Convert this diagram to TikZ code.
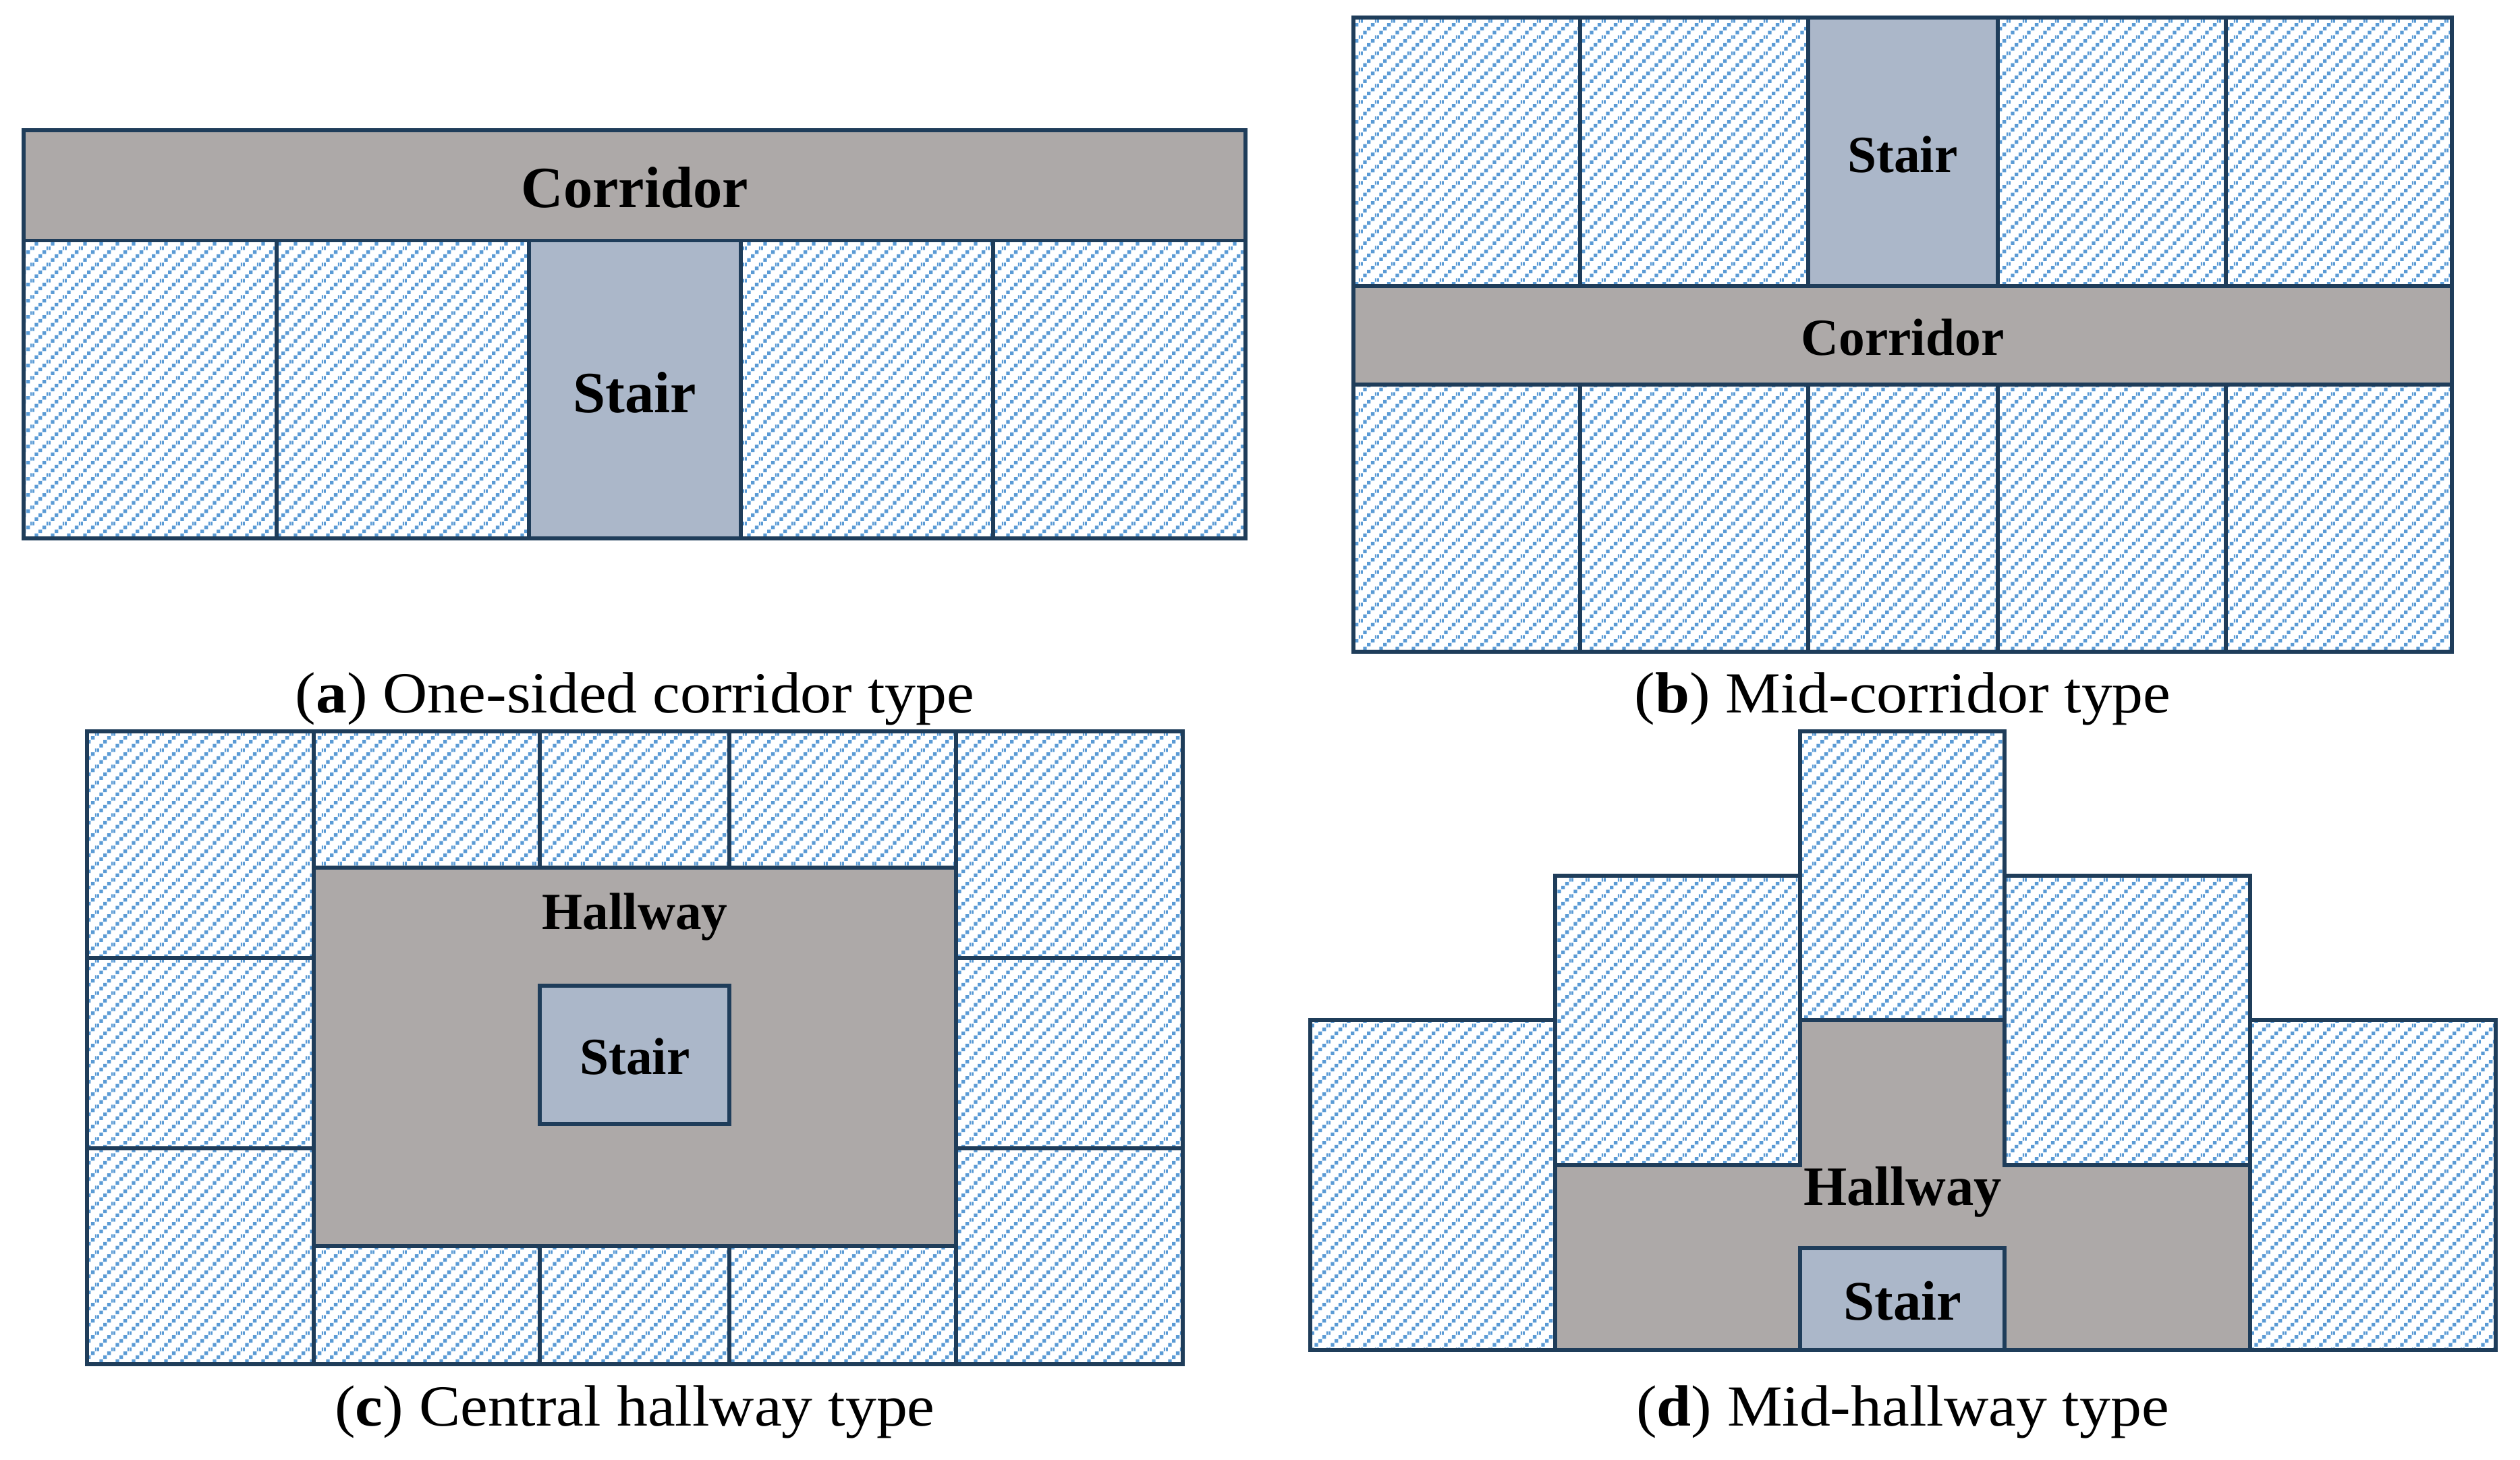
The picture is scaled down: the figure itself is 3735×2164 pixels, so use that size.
\documentclass[tikz,border=0pt]{standalone}
\usepackage{fontspec}
\setmainfont{Liberation Serif}
\newfontfamily\capfont[FakeStretch=1.065,BoldFeatures={FakeStretch=1.065}]{Liberation Serif}
\usetikzlibrary{patterns}
\definecolor{edgeblue}{HTML}{1F3D5A}
\definecolor{hatchblue}{HTML}{5B9BD5}
\definecolor{hallgrey}{HTML}{ADA9A8}
\definecolor{stairblue}{HTML}{ABB7C9}
\pgfdeclarepatternformonly{roomdots}{\pgfqpoint{0cm}{0cm}}{\pgfqpoint{0.24cm}{0.24cm}}{\pgfqpoint{0.24cm}{0.24cm}}{%
  \pgfpathrectangle{\pgfqpoint{0.0355cm}{0cm}}{\pgfqpoint{0.055cm}{0.055cm}}%
  \pgfpathrectangle{\pgfqpoint{0.0955cm}{0.06cm}}{\pgfqpoint{0.055cm}{0.055cm}}%
  \pgfpathrectangle{\pgfqpoint{0.1555cm}{0.12cm}}{\pgfqpoint{0.055cm}{0.055cm}}%
  \pgfpathrectangle{\pgfqpoint{0.2155cm}{0.18cm}}{\pgfqpoint{0.0245cm}{0.055cm}}%
  \pgfpathrectangle{\pgfqpoint{0cm}{0.18cm}}{\pgfqpoint{0.0305cm}{0.055cm}}%
  \pgfusepath{fill}}
\tikzset{
  x=0.01cm,y=-0.01cm,
  room/.style={draw=edgeblue,line width=1.7pt,pattern=roomdots,pattern color=hatchblue},
  hall/.style={draw=edgeblue,line width=1.7pt,fill=hallgrey},
  stairbox/.style={draw=edgeblue,line width=1.7pt,fill=stairblue},
  biglabel/.style={font=\bfseries\fontsize{24.6}{30}\selectfont,inner sep=0pt},
  midlabel/.style={font=\bfseries\fontsize{22}{26}\selectfont,inner sep=0pt},
  dlabel/.style={font=\bfseries\fontsize{23.5}{28}\selectfont,inner sep=0pt},
  caption/.style={font=\capfont\fontsize{24.5}{30}\selectfont,inner sep=0pt,anchor=base}
}
\begin{document}
\begin{tikzpicture}
\useasboundingbox (0,0) rectangle (3735,2164);
% panel a
\draw[hall] (35,193) rectangle (1846,356.5);
\draw[room] (35,356.5) rectangle (410,798);
\draw[room] (410,356.5) rectangle (784,798);
\draw[stairbox] (784,356.5) rectangle (1098,798);
\draw[room] (1098,356.5) rectangle (1472,798);
\draw[room] (1472,356.5) rectangle (1846,798);
\node[biglabel] (acorr) at (941,278) {Corridor};
\node[biglabel] (astair) at (941,582) {Stair};
\node[caption] (acap) at (941,1056) {(\textbf{a}) One-sided corridor type};
% panel b
\foreach \xa/\xb in {2006/2342,2342/2680,2961/3299,3299/3634}{\draw[room] (\xa,26) rectangle (\xb,424);}
\draw[stairbox] (2680,26) rectangle (2961,424);
\draw[hall] (2006,424) rectangle (3634,570);
\foreach \xa/\xb in {2006/2342,2342/2680,2680/2961,2961/3299,3299/3634}{\draw[room] (\xa,570) rectangle (\xb,966);}
\node[midlabel] (bstair) at (2820,229) {Stair};
\node[midlabel] (bcorr) at (2820,500) {Corridor};
\node[caption] (bcap) at (2820,1056) {(\textbf{b}) Mid-corridor type};
% panel c
\foreach \ya/\yb in {1084/1420,1420/1702,1702/2022}{
  \draw[room] (129,\ya) rectangle (465,\yb);
  \draw[room] (1417,\ya) rectangle (1753,\yb);}
\foreach \xa/\xb in {465/800,800/1081,1081/1417}{
  \draw[room] (\xa,1084) rectangle (\xb,1286);
  \draw[room] (\xa,1847) rectangle (\xb,2022);}
\draw[hall] (465,1286) rectangle (1417,1847);
\draw[stairbox] (800,1461) rectangle (1081,1666);
\node[midlabel] (chall) at (941,1359) {Hallway};
\node[midlabel] (cstair) at (941,1566) {Stair};
\node[caption] (ccap) at (941,2113) {(\textbf{c}) Central hallway type};
% panel d
\draw[room] (1942,1512) rectangle (2305,2001);
\draw[room] (3335,1512) rectangle (3699,2001);
\draw[room] (2305,1298) rectangle (2668,1727);
\draw[room] (2971,1298) rectangle (3335,1727);
\draw[room] (2668,1084) rectangle (2971,1512);
\draw[hall] (2668,1512) -- (2971,1512) -- (2971,1727) -- (3335,1727) -- (3335,2001) -- (2305,2001) -- (2305,1727) -- (2668,1727) -- cycle;
\draw[stairbox] (2668,1850) rectangle (2971,2001);
\node[dlabel] (dhall) at (2820,1767) {Hallway};
\node[dlabel] (dstair) at (2820,1928) {Stair};
\node[caption] (dcap) at (2820,2113) {(\textbf{d}) Mid-hallway type};
\end{tikzpicture}
\end{document}
